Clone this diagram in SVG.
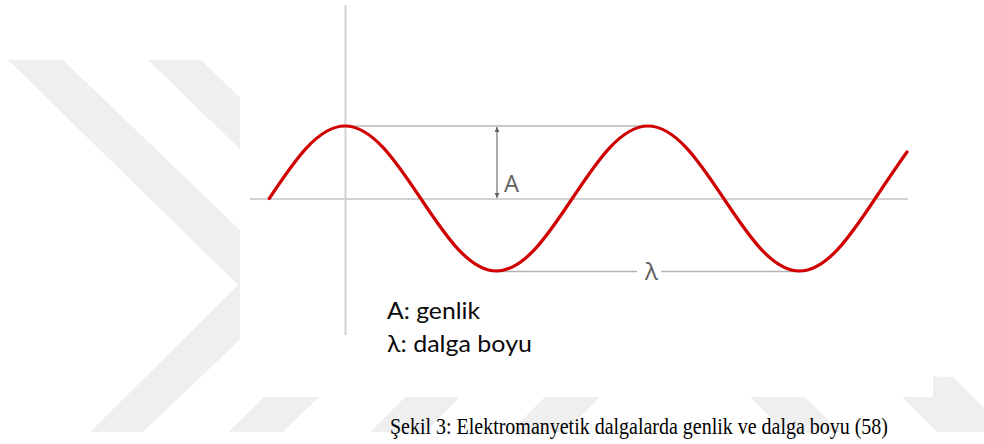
<svg xmlns="http://www.w3.org/2000/svg" width="984" height="444" viewBox="0 0 984 444">
  <style>
    .wm { fill: #efefef; }
    .axis { stroke: #d2d2d2; stroke-width: 2; fill: none; }
    .meas { stroke: #b4b4b4; stroke-width: 1.5; fill: none; }
    .wave { stroke: #d10000; stroke-width: 3.2; fill: none; stroke-linecap: round; }
    .lbl { font-family: "Open Sans", "Liberation Sans", sans-serif; fill: #606060; font-size: 23px; }
    .legend { font-family: Lato, "Open Sans", sans-serif; fill: #0a0a0a; font-size: 24px; }
    .caption { font-family: "Liberation Serif", "Times New Roman", serif; fill: #000; font-size: 24px; }
  </style>
  <defs>
    <marker id="ah" viewBox="0 0 10 10" refX="10" refY="5" markerWidth="5" markerHeight="5" orient="auto-start-reverse" markerUnits="userSpaceOnUse">
      <path d="M0,0 L10,5 L0,10 z" fill="#606060"/>
    </marker>
  </defs>
  <rect width="984" height="444" fill="#ffffff"/>
  <g id="watermark">
    <polygon class="wm" points="8,60 63,60 297,285 143,432 90,432 238,285"/>
    <polygon class="wm" points="148,60 201,60 435,285 283,432 228,432 380,285"/>
    <polygon class="wm" points="405,397 460,397 425,432 370,432"/>
    <polygon class="wm" points="545,397 600,397 565,432 510,432"/>
    <polygon class="wm" points="750,397 805,397 840,432 785,432"/>
    <polygon class="wm" points="902,397 953,377 984,408 984,432 937,432"/>
    <polygon class="wm" points="880,375 953,377 902,397 880,397"/>
  </g>
  <rect id="panel" x="240" y="0" width="693" height="397" fill="#ffffff"/>
  <g id="axes">
    <line class="axis" x1="345.5" y1="5" x2="345.5" y2="335"/>
    <line class="axis" x1="250" y1="199" x2="908" y2="199"/>
  </g>
  <g id="connectors">
    <line class="meas" x1="345" y1="126" x2="648" y2="126"/>
    <line class="meas" x1="497" y1="271.5" x2="637" y2="271.5"/>
    <line class="meas" x1="661" y1="271.5" x2="800" y2="271.5"/>
    <line x1="497" y1="127" x2="497" y2="198" stroke="#707070" stroke-width="1.2" marker-start="url(#ah)" marker-end="url(#ah)"/>
  </g>
  <g id="wave">
    <path class="wave" d="M 269.25 198.5 C 293.95 161.36, 317.59 126, 345 126 C 372.41 126, 396.05 161.36, 420.75 198.5 C 445.45 235.64, 469.09 271, 496.5 271 C 523.91 271, 547.55 235.64, 572.25 198.5 C 596.95 161.36, 620.59 126, 648 126 C 675.41 126, 699.05 161.36, 723.75 198.5 C 748.45 235.64, 772.09 271, 799.5 271 C 826.91 271, 850.55 235.64, 875.25 198.5 C 886.17 182.09, 897.08 165.77, 907 152"/>
  </g>
  <g id="label-A"><text class="lbl" x="504" y="192" textLength="15" lengthAdjust="spacingAndGlyphs">A</text></g>
  <g id="label-lambda"><text class="lbl" x="645" y="280" textLength="13" lengthAdjust="spacingAndGlyphs">λ</text></g>
  <g id="legend">
    <text class="legend" x="387" y="319" textLength="93" lengthAdjust="spacingAndGlyphs">A: genlik</text>
    <text class="legend" x="387" y="352" textLength="145" lengthAdjust="spacingAndGlyphs">λ: dalga boyu</text>
  </g>
  <g id="caption">
    <text class="caption" x="390" y="434" textLength="498" lengthAdjust="spacingAndGlyphs">Şekil 3: Elektromanyetik dalgalarda genlik ve dalga boyu (58)</text>
  </g>
</svg>
